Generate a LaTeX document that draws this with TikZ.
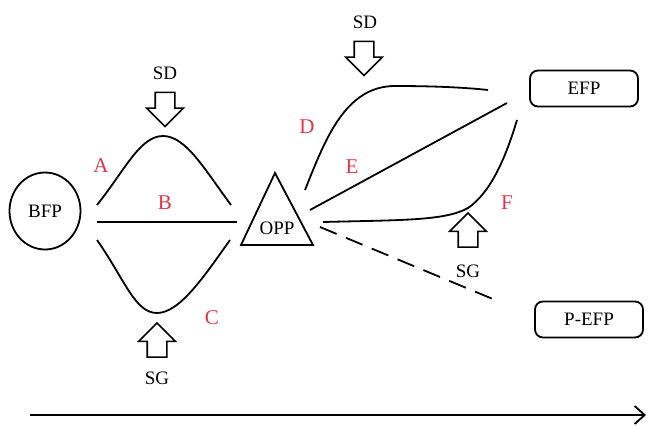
\documentclass[tikz,border=0pt]{standalone}
\usepackage{fontspec}
\setmainfont{Liberation Serif}
\usetikzlibrary{shapes.geometric,shapes.arrows,arrows.meta}
\definecolor{lblred}{RGB}{226,52,74}
\tikzset{
  curve/.style={line width=1.8pt},
  tag/.style={font=\fontsize{19}{21}\selectfont},
  lbl/.style={text=lblred,font=\fontsize{21}{23}\selectfont},
  stage/.style={draw,line width=1.8pt,rounded corners=8pt,minimum width=108pt,minimum height=36pt,tag},
  hollow/.style={single arrow,draw,line width=1.6pt,inner xsep=0pt,inner ysep=9pt,
    minimum height=34pt,single arrow head extend=8.5pt,single arrow tip angle=90}
}
\begin{document}
\begin{tikzpicture}[x=1pt,y=-1pt]
\useasboundingbox (0,0) rectangle (649,426);
\node[draw,ellipse,line width=1.8pt,minimum width=71pt,minimum height=77pt,tag] (BFP) at (45,211) {BFP};
\draw[line width=1.8pt] (275,173) -- (241,245) -- (313,245) -- cycle;
\node[tag,inner sep=0pt] (OPP) at (277,228) {OPP};
\node[stage] (EFP) at (584,88.5) {EFP};
\node[stage] (PEFP) at (589,319.5) {P-EFP};
\coordinate (a0) at (97,205);
\coordinate (a1) at (231,205);
\coordinate (b0) at (97,222);
\coordinate (b1) at (237,222);
\coordinate (c0) at (97,240);
\coordinate (c1) at (230,240);
\coordinate (d0) at (305,190);
\coordinate (d1) at (488,90);
\coordinate (e0) at (310,210);
\coordinate (e1) at (507,103);
\coordinate (f0) at (323,222);
\coordinate (f1) at (517,120);
\coordinate (g0) at (320,227);
\coordinate (g1) at (500,302);
\draw[curve] (a0) .. controls (125,170) and (140,136) .. (163,136) .. controls (186,136) and (205,170) .. (a1);
\draw[curve] (b0) -- (b1);
\draw[curve] (c0) .. controls (125,280) and (135,313) .. (157,313) .. controls (180,313) and (205,275) .. (c1);
\draw[curve] (d0) .. controls (325,140) and (345,86) .. (395,86) .. controls (440,86) and (470,88) .. (d1);
\draw[curve] (e0) -- (e1);
\draw[curve] (f0) .. controls (400,220) and (445,221) .. (468,208) .. controls (490,193) and (505,160) .. (f1);
\draw[curve,dash pattern=on 18pt off 10pt] (g0) -- (g1);
\node[lbl] (A) at (101,166) {A};
\node[lbl] (B) at (165,203) {B};
\node[lbl] (C) at (212,318) {C};
\node[lbl] (D) at (307,127) {D};
\node[lbl] (E) at (352,167) {E};
\node[lbl] (F) at (507,203) {F};
\node[hollow,rotate=-90] (sd1) at (165,104.5) {};
\node[tag] (sd1t) at (165,73) {SD};
\node[hollow,rotate=-90] (sd2) at (364,53.5) {};
\node[tag] (sd2t) at (365,22) {SD};
\node[hollow,rotate=90] (sg1) at (157,345) {};
\node[tag] (sg1t) at (157,378) {SG};
\node[hollow,rotate=90] (sg2) at (468,235) {};
\node[tag] (sg2t) at (468,271) {SG};
\coordinate (t0) at (30,415);
\coordinate (t1) at (646,415);
\draw[line width=1.8pt,-{Straight Barb[length=10pt,width=18pt,line width=1.8pt]}] (t0) -- (t1);
\end{tikzpicture}
\end{document}
